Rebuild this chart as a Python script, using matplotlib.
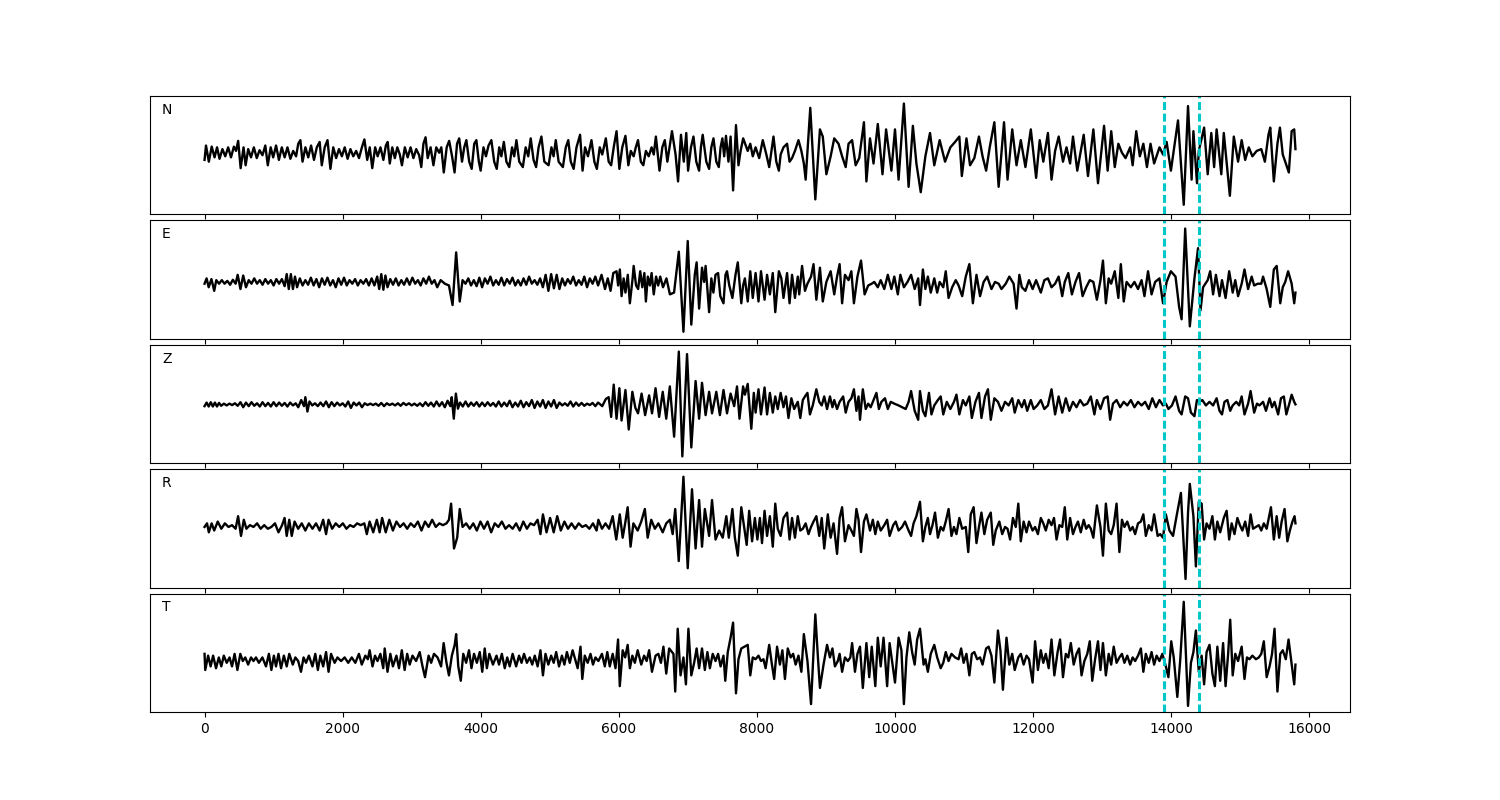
import numpy as np
import matplotlib
matplotlib.use("Agg")
import matplotlib.pyplot as plt

# three-component record plus rotated R/T, amplitudes
components = ["N", "E", "Z", "R", "T"]
pick_times = [13900, 14400]

# (sample, amplitude) turning points of each trace
n_trace = [
    (0, -20), (21, 20), (62, -25), (104, 17), (145, -13), (181, 15), (217, -17), (259, 10),
    (300, -10), (342, 15), (383, -13), (425, 17), (456, 5), (487, 33), (523, -43), (565, 15),
    (595, -35), (632, 10), (673, -13), (714, 15), (756, -15), (797, 7), (839, -7), (880, 20),
    (916, -35), (958, 15), (994, -13), (1036, 20), (1077, -20), (1119, 15), (1160, -13),
    (1201, 15), (1243, -17), (1284, 5), (1326, -10), (1357, 25), (1388, 35), (1419, -25),
    (1461, 15), (1502, -13), (1543, 20), (1585, -20), (1626, 15), (1667, 30), (1698, -35),
    (1740, 15), (1781, 35), (1823, -45), (1864, 15), (1906, -15), (1947, 10), (1989, -10),
    (2030, 15), (2072, -17), (2113, 10), (2154, -10), (2196, 5), (2237, -15), (2279, 15),
    (2315, 37), (2356, -20), (2393, 15), (2429, -43), (2471, 15), (2507, -10), (2548, 15),
    (2590, -20), (2626, 20), (2652, 30), (2683, -30), (2719, 15), (2756, -15), (2792, 15),
    (2828, -5), (2859, -35), (2901, 15), (2942, -13), (2984, 15), (3025, -15), (3066, 10),
    (3108, -7), (3139, -40), (3170, 25), (3201, 43), (3232, -15), (3274, 15), (3315, -35),
    (3356, 15), (3398, 0), (3429, 15), (3465, -55), (3507, 15), (3543, 33), (3585, -10),
    (3621, -55), (3657, 25), (3688, 40), (3729, -25), (3761, 15), (3792, 35), (3833, -25),
    (3869, -45), (3906, 25), (3937, 35), (3973, -25), (3999, -50), (4040, 15), (4076, -10),
    (4113, 20), (4154, 35), (4195, -25), (4232, -45), (4268, 15), (4299, -10), (4335, 30),
    (4372, -25), (4413, -40), (4454, 15), (4485, -10), (4517, 35), (4558, -25), (4610, -40),
    (4651, 15), (4688, -10), (4724, 40), (4765, -20), (4802, -40), (4838, 15), (4879, 45),
    (4921, -25), (4983, -35), (5024, 15), (5055, -10), (5087, 35), (5128, -25), (5190, -40),
    (5232, 15), (5268, 35), (5304, -25), (5346, -45), (5387, 15), (5439, 50), (5475, -50),
    (5511, 15), (5553, -10), (5604, 35), (5646, -25), (5682, -45), (5724, 15), (5760, -5),
    (5812, 40), (5853, -25), (5889, -35), (5926, 15), (5967, 60), (6008, -45), (6050, 15),
    (6096, 47), (6138, -35), (6174, 5), (6215, -10), (6246, 15), (6278, 35), (6319, -25),
    (6355, -35), (6392, 5), (6433, -10), (6475, 15), (6506, -5), (6537, 45), (6589, -50),
    (6630, 15), (6666, 35), (6703, -25), (6734, 15), (6770, 60), (6822, -5), (6858, -80),
    (6900, 50), (6941, -25), (6977, 55), (7003, -50), (7045, 15), (7081, 45), (7122, -25),
    (7163, -50), (7189, 15), (7215, 50), (7267, -25), (7308, -45), (7340, 15), (7371, 40),
    (7412, -25), (7448, -40), (7474, 15), (7500, 40), (7526, -10), (7552, 47), (7588, -25),
    (7619, 45), (7655, -105), (7697, 77), (7733, -35), (7764, 5), (7801, 40),
    (7867, 5), (7904, 25), (7940, -10), (7981, 15), (8033, -15), (8085, 35), (8137, -5),
    (8178, -40), (8240, 45), (8281, -25), (8318, -50), (8344, -5), (8385, 15), (8437, 25),
    (8473, -25), (8509, -15), (8551, 5), (8602, 35), (8644, 5), (8680, -30), (8706, -75),
    (8773, 125), (8846, -130), (8913, 65), (8954, 45), (9006, -60), (9068, -10), (9120, 40),
    (9182, 25), (9234, -10), (9286, -40), (9327, 25), (9379, 35), (9430, -35), (9482, -15),
    (9550, 85), (9586, -80), (9638, 40), (9689, -30), (9751, 80), (9819, -60), (9871, 65),
    (9948, -50), (10000, 65), (10052, -75), (10129, 137), (10197, -95), (10259, 75),
    (10310, -30), (10373, -110), (10440, -10), (10507, 55), (10569, -35), (10647, 35),
    (10725, -25), (10802, 15), (10870, 30), (10932, 45), (10968, -65), (11035, 40),
    (11087, -35), (11149, -15), (11216, 45), (11268, -10), (11320, -50), (11372, 15),
    (11439, 85), (11501, -95), (11579, 85), (11630, -75), (11698, 65), (11760, -35),
    (11822, 35), (11889, -40), (11967, 65), (12044, -70), (12096, 35), (12148, -25),
    (12215, 55), (12267, -75), (12319, 5), (12371, 45), (12433, -25), (12484, 15),
    (12536, -30), (12578, 45), (12640, -50), (12733, 50), (12795, -65), (12873, 65),
    (12940, -85), (13028, 75), (13080, -50), (13132, 60), (13183, -40), (13235, 25),
    (13287, 0), (13339, -15), (13406, 15), (13442, -35), (13494, 60), (13546, -10),
    (13597, 25), (13649, -40), (13701, 25), (13753, -30), (13831, 15), (13882, -5),
    (13934, 30), (13996, -50), (14099, 90), (14182, -145), (14244, 130), (14296, -75),
    (14322, 60), (14374, -85), (14400, 5), (14477, 70), (14529, -60), (14581, 55),
    (14622, -40), (14658, 65), (14726, -60), (14762, 55), (14850, -120), (14907, 45),
    (14969, -25), (15021, 35), (15072, -20), (15124, 15), (15176, -10), (15238, 5),
    (15305, 10), (15357, -25), (15409, 50), (15435, 70), (15487, -80), (15539, 25),
    (15575, 70), (15616, -5), (15652, -25), (15704, -55), (15745, 60), (15782, 65),
    (15800, 10),
]

e_trace = [
    (0, -5), (30, 10), (60, -15), (100, 8), (140, -25), (170, 5), (210, -5), (250, 5),
    (290, -5), (330, 3), (370, -8), (410, 6), (450, -5), (480, 20), (520, -20), (560, 18),
    (600, -15), (640, 5), (680, -5), (720, 10), (760, -5), (800, 5), (840, -8), (880, 8),
    (920, -5), (960, 5), (1000, -10), (1040, 8), (1080, -5), (1120, 8), (1160, -12),
    (1190, 22), (1220, -20), (1250, 22), (1280, -20), (1310, 15), (1340, -15), (1380, 10),
    (1420, -10), (1460, 5), (1500, -8), (1540, 12), (1580, -10), (1620, 8), (1660, -15),
    (1700, 10), (1740, -8), (1780, 12), (1820, -10), (1860, 5), (1900, -15), (1940, 10),
    (1980, -8), (2020, 12), (2060, -10), (2100, 5), (2140, -5), (2180, 8), (2220, -10),
    (2260, 5), (2300, -5), (2340, 8), (2380, -10), (2420, 10), (2460, -10), (2500, 15),
    (2530, -20), (2560, 22), (2590, -22), (2620, 18), (2650, -15), (2690, 8), (2730, -8),
    (2770, 10), (2810, -10), (2850, 5), (2890, -8), (2930, 10), (2970, -8), (3010, 12),
    (3050, -5), (3090, 5), (3130, -10), (3170, 10), (3210, -5), (3250, 15), (3290, -5),
    (3330, 5), (3370, -15), (3420, 5), (3480, -5), (3540, -10), (3592, -65), (3644, 83),
    (3696, -55), (3737, 5), (3780, -5), (3820, 10), (3860, -10), (3900, 5), (3940, -12),
    (3980, 12), (4020, -15), (4060, 10), (4100, -5), (4140, 15), (4180, -10), (4220, 5),
    (4260, -8), (4300, 12), (4340, -10), (4380, 8), (4420, -5), (4460, 12), (4500, -10),
    (4540, 5), (4580, -10), (4620, 10), (4660, -8), (4700, 15), (4740, -5), (4780, 5),
    (4820, -8), (4860, 10), (4900, -15), (4940, 20), (4980, -25), (5020, 22), (5060, -18),
    (5100, 20), (5140, -20), (5180, 10), (5220, -10), (5260, 8), (5300, -5), (5340, 15),
    (5380, -10), (5420, 5), (5460, -8), (5500, 15), (5540, -15), (5580, 10), (5620, -5),
    (5660, 15), (5700, -10), (5750, 20), (5800, -20), (5840, 10), (5880, -25), (5920, 25),
    (5967, 30), (5990, -10), (6015, 35), (6040, -40), (6070, 10), (6096, -30), (6130, 20),
    (6160, -60), (6200, 10), (6215, 45), (6250, -10), (6280, -20), (6310, 30), (6340, -15),
    (6370, 25), (6392, -55), (6420, 15), (6450, -10), (6475, 25), (6506, -35), (6540, 15),
    (6570, -10), (6600, 15), (6640, -15), (6690, 10), (6740, -35), (6800, -30), (6869, 85),
    (6936, -140), (6998, 115), (7050, -120), (7100, 20), (7127, 55), (7163, -75), (7205, 40),
    (7235, 0), (7257, 45), (7308, -85), (7340, 10), (7370, -30), (7400, 20), (7438, 25),
    (7470, -40), (7516, -60), (7545, 20), (7567, 30), (7600, -10), (7645, -45), (7690, 20),
    (7723, 55), (7774, -60), (7800, -10),
    (7826, 10), (7867, -55), (7904, 30), (7940, -45), (7981, 25), (8023, -55), (8059, 30),
    (8111, -50), (8147, 20), (8188, -35), (8230, 25), (8266, -85), (8318, 30), (8354, 10),
    (8385, -45), (8437, 25), (8473, -60), (8509, 20), (8551, -45), (8592, 15), (8613, -35),
    (8654, 45), (8696, -25), (8732, -5), (8784, 15), (8820, 50), (8861, -50), (8913, 40),
    (8954, -55), (9006, 0), (9068, 30), (9120, -35), (9161, 15), (9198, 50), (9234, -60),
    (9275, 20), (9327, 5), (9368, 30), (9405, -60), (9456, 15), (9508, 60), (9560, -35),
    (9612, -10), (9663, -5), (9700, 0), (9751, -15), (9793, 5), (9845, -20), (9896, 20),
    (9948, -20), (9990, 15), (10041, -35), (10078, 20), (10129, -15), (10181, 0),
    (10233, 20), (10285, -20), (10336, 10), (10362, -65), (10404, 35), (10440, -20),
    (10476, 15), (10518, -30), (10569, 10), (10611, -30), (10647, 0), (10699, -15),
    (10735, 30), (10776, -45), (10828, -15), (10880, 5), (10921, -10), (10973, -40),
    (11025, 15), (11077, 50), (11128, -60), (11180, 20), (11232, -40), (11284, 0),
    (11335, 15), (11397, -20), (11449, 0), (11501, -5), (11542, -20), (11604, -5),
    (11656, 15), (11718, -5), (11760, -75), (11801, 20), (11837, -15), (11889, -25),
    (11941, 5), (11993, -20), (12044, 5), (12112, -30), (12163, 5), (12215, 10),
    (12267, -15), (12319, -5), (12370, 15), (12422, -40), (12459, 0), (12510, 25),
    (12562, -35), (12614, 0), (12666, 25), (12717, -40), (12769, -15), (12821, 5),
    (12873, 0), (12924, -50), (12976, 5), (13012, 60), (13054, -60), (13095, 10),
    (13131, -5), (13183, 30), (13235, -45), (13271, 50), (13313, -55), (13354, 0),
    (13416, -15), (13468, 0), (13520, -20), (13571, 5), (13613, -40), (13665, 30),
    (13716, -35), (13768, 0), (13830, 10), (13882, -60), (13934, 0), (13996, 30),
    (14063, 15), (14115, -70), (14151, -105), (14203, 150), (14270, -125), (14337, 10),
    (14389, 95), (14425, -80), (14462, -15), (14529, 5), (14565, 30), (14607, -35),
    (14648, 20), (14700, -40), (14736, 5), (14788, -45), (14840, 30), (14891, -30),
    (14928, 5), (14969, -40), (15021, -5), (15062, 35), (15114, -20), (15166, 15),
    (15202, -10), (15254, -5), (15305, -5), (15331, 15), (15383, -20), (15435, -70),
    (15487, 35), (15528, 45), (15580, -60), (15616, -15), (15652, 0), (15694, 30),
    (15745, -5), (15782, -60), (15800, -30),
]

z_trace = [
    (0, -5), (30, 5), (60, -6), (90, 6), (120, -6), (150, 5), (180, -6), (210, 4), (240, -4),
    (280, 2), (320, -3), (360, 2), (400, -2), (440, 3), (480, -4), (520, 6), (560, -8),
    (600, 5), (640, -5), (680, 6), (720, -4), (760, 3), (800, -6), (840, 6), (880, -5),
    (920, 4), (960, -6), (1000, 6), (1040, -5), (1080, 5), (1120, -4), (1160, 4), (1200, -6),
    (1240, 5), (1280, -3), (1320, 3), (1357, -8), (1400, 12), (1440, -5), (1460, 20),
    (1490, -20), (1520, 8), (1560, -3), (1600, 3), (1640, -5), (1680, 5), (1720, -5),
    (1760, 8), (1800, -8), (1840, 6), (1880, -5), (1920, 5), (1960, -3), (2000, 3),
    (2040, -6), (2080, 8), (2120, -10), (2160, 5), (2200, -3), (2240, 5), (2280, -8),
    (2320, 3), (2360, -2), (2400, 2), (2440, -2), (2480, 2), (2520, -4), (2560, 4),
    (2600, -5), (2640, 3), (2680, -2), (2720, 2), (2760, -3), (2800, 3), (2840, -4),
    (2880, 4), (2920, -2), (2960, 3), (3000, -3), (3040, 2), (3080, -4), (3120, 3),
    (3160, -5), (3200, 6), (3240, -4), (3280, 5), (3320, -6), (3360, 8), (3400, -5),
    (3440, 6), (3480, -8), (3520, 10), (3560, -5), (3580, 20), (3610, -40), (3640, 30),
    (3670, -12), (3700, 5), (3740, -6), (3780, 8), (3820, -6), (3860, 5), (3900, -4),
    (3940, 6), (3980, -6), (4020, 5), (4060, -5), (4100, 6), (4140, -4), (4180, 4),
    (4220, -6), (4260, 8), (4300, -6), (4340, 5), (4380, -5), (4420, 10), (4460, -8),
    (4500, 5), (4540, -6), (4580, 10), (4620, -8), (4660, 6), (4700, -5), (4740, 12),
    (4780, -10), (4820, 8), (4860, -6), (4900, 12), (4940, -10), (4980, 8), (5020, -6),
    (5060, 12), (5100, -10), (5140, 5), (5180, -3), (5220, 3), (5260, -4), (5300, 8),
    (5340, -6), (5380, 5), (5420, -4), (5460, 4), (5500, -4), (5540, 2), (5580, -2),
    (5620, 4), (5660, -5), (5700, 5), (5760, -5), (5812, 15), (5853, 20), (5889, -35),
    (5926, 55), (5967, -40), (6008, 45), (6040, -45), (6096, 40), (6144, -70), (6196, 35),
    (6240, -10), (6278, -25), (6330, 30), (6381, -30), (6439, 25), (6481, -25), (6532, 45),
    (6584, -35), (6636, 35), (6687, -40), (6739, 50), (6801, -90), (6869, 147), (6920, -145),
    (6988, 140), (7050, -120), (7112, 65), (7163, -40), (7205, 60), (7257, -30), (7308, 35),
    (7350, -25), (7412, 35), (7464, -30), (7516, 40), (7567, -25), (7619, 30), (7671, -5),
    (7712, 50), (7748, -40), (7800, 50),
    (7826, 27), (7867, 57), (7919, -68), (7955, 32), (7981, -23), (8023, 42), (8059, -28),
    (8111, 47), (8147, -28), (8188, 32), (8230, -23), (8266, 22), (8302, -13), (8344, 32),
    (8385, -8), (8421, 22), (8457, -38), (8499, 17), (8540, -13), (8592, 7), (8628, -38),
    (8665, 12), (8696, 22), (8732, 32), (8768, -28), (8809, -3), (8861, 42), (8903, 7),
    (8939, -3), (8975, 22), (9016, -13), (9058, 22), (9094, -8), (9120, 12), (9161, -13),
    (9198, 7), (9249, 22), (9286, -23), (9327, 7), (9368, 17), (9405, 42), (9441, -18),
    (9472, 22), (9493, -43), (9534, 42), (9576, -13), (9612, 2), (9648, -8), (9689, 12),
    (9731, 32), (9767, -13), (9803, 7), (9855, 17), (9896, -13), (9938, 7), (9990, 2),
    (10052, -3), (10103, -8), (10155, -13), (10197, 7), (10233, 37), (10285, -18),
    (10336, -43), (10362, 37), (10404, -18), (10440, -33), (10492, 32), (10528, -28),
    (10569, -3), (10621, 12), (10662, 22), (10699, -28), (10750, 7), (10802, -13),
    (10854, 7), (10890, 27), (10932, -28), (10984, 12), (11025, -3), (11077, 22),
    (11113, -38), (11165, 7), (11216, 32), (11252, -38), (11304, 22), (11346, 42),
    (11387, -43), (11439, 17), (11491, 7), (11542, -18), (11594, 7), (11646, -3),
    (11698, 17), (11734, -23), (11786, 12), (11837, -8), (11874, 12), (11915, -18),
    (11967, 12), (12008, -13), (12060, -3), (12112, 12), (12163, -13), (12215, -3),
    (12267, 42), (12319, -28), (12370, 22), (12422, -23), (12474, 17), (12526, -18),
    (12578, 7), (12629, -8), (12681, 12), (12733, -3), (12785, 2), (12836, 22), (12888, -28),
    (12924, 12), (12976, -13), (13028, 17), (13080, 22), (13116, -43), (13157, 2),
    (13209, 12), (13261, -8), (13313, 7), (13364, -3), (13416, 12), (13468, -8), (13520, 7),
    (13571, -3), (13623, 7), (13675, -13), (13727, 17), (13779, -8), (13830, 12),
    (13882, -3), (13923, 2), (13960, -13), (14011, -3), (14063, 22), (14115, -18),
    (14151, -28), (14203, 22), (14244, 17), (14286, -23), (14337, -33), (14373, 12),
    (14410, 7), (14451, 12), (14503, -3), (14555, 7), (14607, -3), (14658, 17), (14700, -18),
    (14736, -28), (14772, 7), (14814, 12), (14855, -18), (14891, -3), (14943, 7),
    (14984, -3), (15021, 22), (15062, -28), (15114, 2), (15150, 37), (15202, -23),
    (15243, 2), (15279, -3), (15331, 7), (15373, -18), (15425, 17), (15461, -8), (15497, 7),
    (15549, -28), (15590, 17), (15632, 22), (15668, -28), (15704, -3), (15745, 27),
    (15782, 7), (15800, 0),
]

r_trace = [
    (0, 0), (36, 10), (62, -15), (103, 10), (140, -10), (191, 15), (243, -5), (295, 10),
    (347, 0), (398, 5), (450, -5), (486, 30), (528, -25), (569, 20), (606, -5), (657, 5),
    (709, 0), (761, 10), (813, -5), (864, 5), (916, -5), (968, 0), (1020, 10), (1071, -15),
    (1123, 5), (1159, 25), (1190, -25), (1227, 20), (1263, -25), (1304, 15), (1356, -5),
    (1408, 10), (1460, -10), (1511, 10), (1563, -5), (1615, 10), (1667, -10), (1718, 20),
    (1760, -20), (1796, 20), (1848, -5), (1900, 10), (1951, 0), (2003, 10), (2055, -5),
    (2107, 5), (2158, 0), (2210, 10), (2262, 5), (2314, 10), (2350, -20), (2391, 15),
    (2443, -15), (2495, 20), (2536, -15), (2572, 25), (2624, -15), (2676, 20), (2728, -10),
    (2779, 15), (2831, 0), (2883, 10), (2935, -5), (2986, 10), (3038, 0), (3090, 15),
    (3142, -10), (3193, 15), (3245, 0), (3297, 20), (3349, 0), (3401, 10), (3452, 5),
    (3504, 10), (3540, 20), (3571, 65), (3613, -60), (3659, -30), (3696, 50), (3737, 0),
    (3789, 10), (3841, -5), (3892, 10), (3944, -10), (3996, 15), (4048, -5), (4099, 15),
    (4151, -15), (4203, 10), (4255, 0), (4306, 15), (4358, -5), (4410, 5), (4462, -5),
    (4513, 10), (4565, -10), (4617, 15), (4669, -5), (4720, 10), (4772, 5), (4824, 20),
    (4865, -20), (4901, 35), (4953, -15), (5005, 25), (5057, -15), (5108, 30), (5160, -10),
    (5212, 15), (5264, -5), (5315, 10), (5367, -5), (5419, 10), (5471, 0), (5522, 5),
    (5574, -5), (5626, 10), (5678, -10), (5704, 20), (5756, -5), (5807, 10), (5859, -5),
    (5911, 30), (5963, -35), (6014, 35), (6056, -30), (6092, 10), (6128, 55), (6170, -55),
    (6211, 10), (6273, -10), (6325, 15), (6377, 50), (6418, -30), (6470, 20), (6522, -5),
    (6573, 10), (6636, -15), (6687, 10), (6739, 20), (6780, -20), (6817, 50), (6868, -95),
    (6936, 140), (6998, -115), (7060, 105), (7112, -60), (7163, 75), (7205, -55), (7246, 50),
    (7308, -25), (7350, 75), (7401, -35), (7453, -10), (7505, -30), (7557, 30), (7593, -30),
    (7645, 50), (7681, -30), (7723, -80), (7774, 55),
    (7852, -50), (7888, 45), (7930, -40), (7971, 25), (8007, -35), (8043, 25), (8074, -45),
    (8111, 45), (8147, -25), (8188, 30), (8230, -55), (8266, 65), (8302, -5), (8344, -25),
    (8385, 25), (8437, 40), (8473, -35), (8509, 25), (8551, -30), (8592, 30), (8628, -10),
    (8665, -5), (8706, 10), (8747, -20), (8784, 0), (8820, 15), (8861, 30), (8903, -25),
    (8939, 25), (8975, -60), (9027, 35), (9068, -30), (9110, 10), (9161, -75), (9198, 25),
    (9234, 55), (9275, -40), (9327, 5), (9368, -10), (9405, -25), (9441, 50), (9472, 20),
    (9508, -70), (9550, 15), (9586, 35), (9638, -10), (9679, 20), (9715, -20), (9751, 15),
    (9793, -10), (9845, 5), (9886, 20), (9922, -25), (9974, 5), (10010, 15), (10052, -10),
    (10103, 0), (10145, 15), (10197, -10), (10233, -25), (10269, 10), (10310, 30),
    (10362, 70), (10404, -40), (10440, 0), (10476, 25), (10507, -20), (10543, 5),
    (10580, 40), (10621, -30), (10662, 0), (10699, -10), (10735, 15), (10776, 50),
    (10818, -25), (10854, 0), (10890, -20), (10932, 25), (10973, -5), (11025, 0),
    (11061, -70), (11097, 35), (11139, 55), (11180, -45), (11216, 0), (11252, 40),
    (11294, -20), (11335, 20), (11387, 40), (11423, -50), (11459, -10), (11511, 15),
    (11553, -20), (11594, 0), (11630, -5), (11667, -35), (11708, 25), (11749, 0),
    (11786, 65), (11822, -40), (11863, 15), (11905, -15), (11941, 15), (11993, -10),
    (12029, 0), (12070, -20), (12112, 25), (12148, 10), (12184, -10), (12226, 20),
    (12267, 5), (12303, 25), (12340, -35), (12381, 5), (12422, 0), (12459, 55), (12495, -35),
    (12536, 25), (12578, -20), (12614, 0), (12650, 15), (12691, -15), (12733, 20),
    (12769, -5), (12805, 5), (12836, -5), (12873, -30), (12924, 60), (12976, 0),
    (13012, -80), (13054, 65), (13095, -10), (13131, -20), (13168, 5), (13209, 65),
    (13250, -70), (13287, 20), (13323, 0), (13364, 15), (13406, -10), (13442, 0),
    (13478, -20), (13520, 10), (13561, 15), (13597, 35), (13633, -25), (13675, 5),
    (13716, -10), (13753, 35), (13804, -25), (13841, -20), (13882, -30), (13923, 35),
    (13975, -10), (14027, -25), (14078, 30), (14141, 95), (14208, -145), (14244, 40),
    (14270, 120), (14322, 30), (14358, -110), (14400, 70), (14441, 65), (14477, -35),
    (14513, 10), (14555, -5), (14597, 30), (14633, -35), (14669, 15), (14710, -15),
    (14762, 25), (14803, 45), (14840, -35), (14876, 10), (14917, -20), (14959, 25),
    (14995, 5), (15031, -10), (15072, 15), (15114, -25), (15150, 35), (15186, -5),
    (15228, 0), (15269, 5), (15305, -10), (15342, 10), (15383, -5), (15425, 35),
    (15445, 55), (15487, -35), (15528, 30), (15564, -30), (15600, 15), (15642, 50),
    (15683, -40), (15719, -10), (15756, 15), (15787, 30), (15800, 10),
]

t_trace = [
    (0, 10), (10, -35), (52, 5), (88, -25), (124, 5), (166, -30), (207, 0), (243, -25),
    (279, 5), (321, -15), (362, 0), (398, -25), (435, 10), (476, -35), (518, 10), (554, -10),
    (590, 0), (631, -20), (673, 0), (709, -10), (745, 0), (787, -15), (838, 0), (890, -25),
    (932, 10), (968, -35), (1004, 5), (1035, -25), (1071, 10), (1108, -30), (1149, 5),
    (1190, -25), (1227, 10), (1278, -20), (1315, 0), (1356, -10), (1397, -40), (1434, 0),
    (1470, -15), (1511, 5), (1563, -25), (1604, 10), (1641, -35), (1677, 5), (1718, -25),
    (1760, 15), (1796, -40), (1832, 10), (1884, -15), (1925, 0), (1977, -10), (2029, 0),
    (2081, -15), (2132, 0), (2184, -15), (2236, 10), (2277, -20), (2329, 5), (2365, -5),
    (2391, 20), (2433, -25), (2469, 5), (2505, -10), (2547, 10), (2588, -30), (2609, 25),
    (2650, -40), (2691, 10), (2728, -25), (2779, 5), (2816, -30), (2857, 20), (2898, -35),
    (2935, 10), (2971, -20), (3012, 5), (3064, -10), (3116, 15), (3157, -25), (3193, -55),
    (3245, 5), (3282, -15), (3323, 10), (3375, 0), (3426, -25), (3463, 40), (3504, -15),
    (3540, -50), (3582, 5), (3623, 35), (3644, 65), (3675, -25), (3711, -65), (3747, 10),
    (3789, -15), (3830, 20), (3866, -30), (3903, 10), (3944, -15), (3986, 15), (4022, -40),
    (4058, 25), (4089, -30), (4125, 10), (4177, -20), (4229, 5), (4265, -20), (4306, 10),
    (4348, -30), (4384, 0), (4420, -25), (4462, 10), (4513, -25), (4555, 5), (4591, -15),
    (4627, 10), (4669, -15), (4710, 0), (4746, -20), (4783, 5), (4824, -25), (4865, 20),
    (4901, -50), (4938, 10), (4979, -20), (5020, 5), (5057, -15), (5093, 15), (5134, -25),
    (5176, 5), (5212, -20), (5248, 15), (5290, -15), (5331, 20), (5367, -5), (5404, -30),
    (5445, 30), (5471, -60), (5507, 5), (5549, -15), (5590, 10), (5626, -20), (5662, 0),
    (5704, -10), (5756, 10), (5797, -25), (5833, 15), (5869, -25), (5911, 10), (5952, -30),
    (5989, 50), (6014, -80), (6056, 20), (6092, 0), (6128, 35), (6160, -30), (6196, 5),
    (6232, -15), (6273, 20), (6325, -20), (6366, 5), (6403, -10), (6439, 20), (6480, -40),
    (6532, 5), (6573, 10), (6610, -15), (6646, 30), (6687, -45), (6729, 25), (6791, 10),
    (6817, -95), (6853, 80), (6894, -50), (6936, 0), (6972, -75), (7008, 80), (7050, -50),
    (7091, -15), (7127, 25), (7163, -30), (7205, 25), (7246, -35), (7283, 15), (7319, -30),
    (7360, 10), (7401, -10), (7438, 10), (7474, -25), (7516, 5), (7542, -65), (7578, 15),
    (7619, 55), (7655, 97), (7697, -100), (7733, -5), (7774, 25),
    (7867, 35), (7904, -50), (7940, 0), (7981, -5), (8023, 5), (8059, -10), (8095, -5),
    (8126, -30), (8178, 35), (8214, -15), (8250, -60), (8292, 30), (8333, -20), (8369, 20),
    (8406, -60), (8447, 25), (8489, 0), (8525, 10), (8561, -20), (8602, 5), (8644, -40),
    (8680, 65), (8732, -10), (8784, -130), (8846, 120), (8887, -10), (8913, -85),
    (8965, -20), (9016, 35), (9058, 0), (9094, 25), (9130, -25), (9172, -10), (9198, 10),
    (9234, -40), (9275, 0), (9317, -10), (9353, 0), (9379, 40), (9420, -40), (9456, 10),
    (9493, 30), (9534, -85), (9586, 40), (9627, -55), (9663, 30), (9715, -80), (9751, 55),
    (9793, -25), (9834, 55), (9886, -80), (9922, 40), (9958, -10), (10000, -70),
    (10052, 55), (10093, 20), (10129, -130), (10166, 0), (10207, 70), (10248, 15),
    (10285, -20), (10321, 50), (10362, 80), (10414, -20), (10440, -5), (10476, -40),
    (10518, 10), (10569, 35), (10611, 0), (10662, -30), (10699, -15), (10735, 15),
    (10776, -10), (10818, 10), (10870, 0), (10921, -5), (10958, 25), (10994, -15),
    (11035, 10), (11077, -50), (11113, 10), (11149, 15), (11190, -5), (11232, 0),
    (11268, -20), (11320, 25), (11356, 30), (11397, 5), (11439, -70), (11491, 75),
    (11527, 20), (11563, -90), (11615, 55), (11656, -20), (11698, 10), (11734, -35),
    (11786, 0), (11822, 10), (11863, -20), (11905, 5), (11941, -5), (11993, -70),
    (12029, 45), (12070, -35), (12112, 20), (12148, -15), (12184, 10), (12226, -30),
    (12267, 50), (12308, -50), (12355, 15), (12391, 50), (12433, -55), (12474, 10),
    (12510, 0), (12547, 40), (12588, -20), (12629, 10), (12666, 25), (12702, -50),
    (12743, -10), (12785, 10), (12821, 45), (12857, -65), (12898, -5), (12940, 45),
    (12976, -35), (13012, 40), (13054, -50), (13095, 10), (13131, -20), (13168, 30),
    (13209, -15), (13250, 0), (13287, 10), (13323, -15), (13364, 5), (13406, -20),
    (13442, 0), (13478, -10), (13520, 5), (13561, 25), (13597, -40), (13633, 10),
    (13675, -15), (13716, 15), (13753, -20), (13789, 5), (13830, -10), (13872, 10),
    (13923, -25), (13960, -55), (14001, 45), (14037, 0), (14089, -110), (14130, -10),
    (14182, 155), (14244, -135), (14286, -15), (14322, 15), (14358, 75), (14400, -40),
    (14441, 5), (14477, -75), (14513, 15), (14555, 35), (14597, -45), (14633, -80),
    (14669, 30), (14710, -65), (14752, 40), (14788, -80), (14825, 10), (14855, 105),
    (14891, -50), (14928, 10), (14969, -10), (15021, 30), (15062, -60), (15098, 0),
    (15135, -5), (15176, 5), (15228, -5), (15269, 0), (15305, 10), (15342, 45),
    (15383, -55), (15425, -25), (15461, 10), (15497, 80), (15539, -95), (15580, 10),
    (15616, 20), (15660, -5), (15700, 50), (15760, -40), (15782, -75), (15800, -20),
]

traces = [n_trace, e_trace, z_trace, r_trace, t_trace]
panel_ylim = [(-172, 158), (-160, 173), (-164, 166), (-169, 161), (-152, 178)]

fig, axes = plt.subplots(5, 1, sharex=True, figsize=(15, 8))
fig.subplots_adjust(left=0.1, right=0.9, hspace=0.05)

for ax, name, trace, lim in zip(axes, components, traces, panel_ylim):
    t, a = np.array(trace, dtype=float).T
    ax.plot(t, a, color="black", lw=1.7, solid_joinstyle="round")
    for p in pick_times:
        ax.axvline(p, color="#00c8c8", lw=2.2, ls=(0, (2.6, 1.2)))
    ax.set_ylim(lim)
    ax.set_yticks([])
    ax.text(0.01, 0.85, name, transform=ax.transAxes)

fig.savefig("out.png")
